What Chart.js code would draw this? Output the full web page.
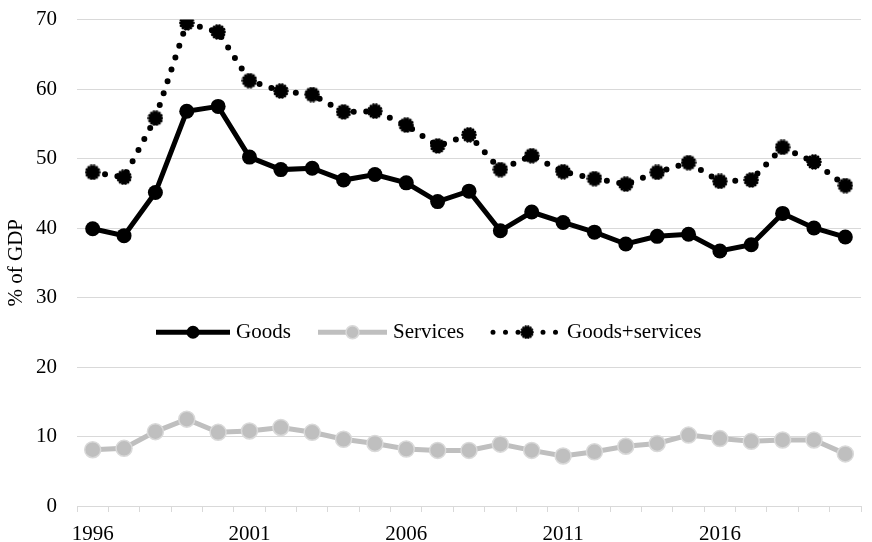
<!DOCTYPE html>
<html>
<head>
<meta charset="utf-8">
<title>Trade in goods and services, % of GDP</title>
<script src="https://cdn.jsdelivr.net/npm/chart.js@4.4.1/dist/chart.umd.min.js"></script>
<style>
  html, body { margin: 0; padding: 0; background: #fff; overflow: hidden; }
  #wrap { position: relative; width: 875px; height: 542px; }
</style>
</head>
<body>
<div id="wrap"><canvas id="tradeChart"></canvas></div>
<script>
// --- Data ---
const years = ['1996', '1997', '1998', '1999', '2000', '2001', '2002', '2003', '2004', '2005',
  '2006', '2007', '2008', '2009', '2010', '2011', '2012', '2013', '2014', '2015',
  '2016', '2017', '2018', '2019', '2020'];

const goods = [39.9, 38.9, 45.1, 56.8, 57.5, 50.2, 48.4, 48.6, 46.9, 47.7,
  46.5, 43.8, 45.3, 39.6, 42.3, 40.8, 39.4, 37.7, 38.8, 39.1,
  36.7, 37.6, 42.1, 40.0, 38.7];

const services = [8.1, 8.3, 10.7, 12.5, 10.6, 10.8, 11.3, 10.6, 9.6, 9.0,
  8.2, 8.0, 8.0, 8.9, 8.0, 7.2, 7.8, 8.6, 9.0, 10.2,
  9.7, 9.3, 9.5, 9.5, 7.5];

const goodsServices = [48.0, 47.3, 55.8, 69.5, 68.2, 61.2, 59.7, 59.2, 56.7, 56.8,
  54.8, 51.8, 53.4, 48.4, 50.4, 48.1, 47.1, 46.3, 48.0, 49.4,
  46.7, 46.9, 51.6, 49.5, 46.1];

const yTicks = [0, 10, 20, 30, 40, 50, 60, 70];
const labelEvery = 5;

// --- Styles ---
const FONT = "'Liberation Serif', 'Times New Roman', serif";
const GRID = '#d9d9d9';
const GREY = '#bfbfbf';

// burst marker (filled circle with a jagged rim), like the Excel one
function makeBurst(size) {
  const c = document.createElement('canvas');
  c.width = size; c.height = size;
  const g = c.getContext('2d');
  const r = size / 2;
  g.fillStyle = '#000';
  g.beginPath();
  g.arc(r, r, r * 0.78, 0, Math.PI * 2);
  g.fill();
  // little bumps round the edge
  const n = 14;
  for (let i = 0; i < n; i++) {
    const a = (i / n) * Math.PI * 2;
    g.beginPath();
    g.arc(r + Math.cos(a) * r * 0.8, r + Math.sin(a) * r * 0.8, r * 0.18, 0, Math.PI * 2);
    g.fill();
  }
  return c;
}
const burstPoint = makeBurst(16);
const burstLegend = makeBurst(14);

// --- Legend drawn inside the plot, as in the reference ---
const legendItems = [
  { key: 'goods', text: 'Goods', x0: 156, x1: 230 },
  { key: 'services', text: 'Services', x0: 318, x1: 387 },
  { key: 'total', text: 'Goods+services', x0: 493, x1: 561 }
];

const innerLegend = {
  id: 'innerLegend',
  afterDraw(chart) {
    const ctx = chart.ctx;
    const y = chart.scales.y.getPixelForValue(25.0);
    ctx.save();
    legendItems.forEach(item => {
      const mid = (item.x0 + item.x1) / 2;
      ctx.lineCap = item.key === 'total' ? 'round' : 'butt';
      if (item.key === 'goods') {
        ctx.strokeStyle = '#000'; ctx.lineWidth = 5; ctx.setLineDash([]);
      } else if (item.key === 'services') {
        ctx.strokeStyle = GREY; ctx.lineWidth = 5; ctx.setLineDash([]);
      } else {
        ctx.strokeStyle = '#000'; ctx.lineWidth = 5; ctx.setLineDash([0, 12.5]);
      }
      ctx.beginPath();
      ctx.moveTo(item.x0, y);
      ctx.lineTo(item.x1, y);
      ctx.stroke();
      ctx.setLineDash([]);

      if (item.key === 'total') {
        ctx.drawImage(burstLegend, mid - 7, y - 7, 14, 14);
      } else {
        ctx.beginPath();
        ctx.arc(mid, y, 6.5, 0, Math.PI * 2);
        ctx.fillStyle = item.key === 'goods' ? '#000' : GREY;
        ctx.fill();
        if (item.key === 'services') {
          ctx.strokeStyle = GRID; ctx.lineWidth = 1.5; ctx.stroke();
        }
      }

      ctx.fillStyle = '#000';
      ctx.font = '21px ' + FONT;
      ctx.textAlign = 'left';
      ctx.textBaseline = 'middle';
      ctx.fillText(item.text, item.x1 + 6, y);
    });
    ctx.restore();
  }
};

// --- Chart ---
const ctx = document.getElementById('tradeChart').getContext('2d');
new Chart(ctx, {
  type: 'line',
  data: {
    labels: years,
    datasets: [
      {
        label: 'Services',
        data: services,
        borderColor: GREY,
        borderWidth: 5,
        pointRadius: 8,
        pointBackgroundColor: GREY,
        pointBorderColor: GRID,
        pointBorderWidth: 1.5,
        tension: 0
      },
      {
        label: 'Goods',
        data: goods,
        borderColor: '#000',
        borderWidth: 5,
        pointRadius: 7.5,
        pointBackgroundColor: '#000',
        pointBorderColor: '#000',
        pointBorderWidth: 0,
        tension: 0
      },
      {
        label: 'Goods+services',
        data: goodsServices,
        borderColor: '#000',
        borderWidth: 6,
        borderDash: [0, 12.5],
        borderCapStyle: 'round',
        pointStyle: burstPoint,
        pointRadius: 8,
        tension: 0
      }
    ]
  },
  options: {
    responsive: true,
    maintainAspectRatio: false,
    animation: false,
    devicePixelRatio: 1,
    layout: { padding: { top: 19.5, right: 0, bottom: 0, left: 0 } },
    plugins: {
      legend: { display: false },
      tooltip: { enabled: false }
    },
    scales: {
      x: {
        offset: true,
        grid: {
          offset: true,
          drawOnChartArea: false,
          drawTicks: true,
          tickLength: 6,
          color: GRID,
          lineWidth: 1
        },
        border: { display: true, color: GRID, width: 1 },
        ticks: {
          autoSkip: false,
          maxRotation: 0,
          padding: 10,
          color: '#000',
          font: { family: FONT, size: 21 },
          callback: (v, i) => (i % labelEvery === 0 ? years[i] : '')
        },
        afterFit: s => { s.height = 36; }
      },
      y: {
        min: 0,
        max: 70,
        afterBuildTicks: s => { s.ticks = yTicks.map(v => ({ value: v })); },
        grid: { color: GRID, lineWidth: 1, drawTicks: false },
        border: { display: false },
        ticks: {
          padding: 20,
          color: '#000',
          font: { family: FONT, size: 21 }
        },
        title: {
          display: true,
          text: '% of GDP',
          color: '#000',
          font: { family: FONT, size: 21 },
          padding: { top: 4, bottom: 0 }
        },
        // fixed width; drop the extra top/bottom room the tick padding asks for
        afterFit: s => {
          s.width = 77;
          s.paddingTop = 0;
          s.paddingBottom = 0;
        }
      }
    }
  },
  plugins: [innerLegend]
});
</script>
</body>
</html>
